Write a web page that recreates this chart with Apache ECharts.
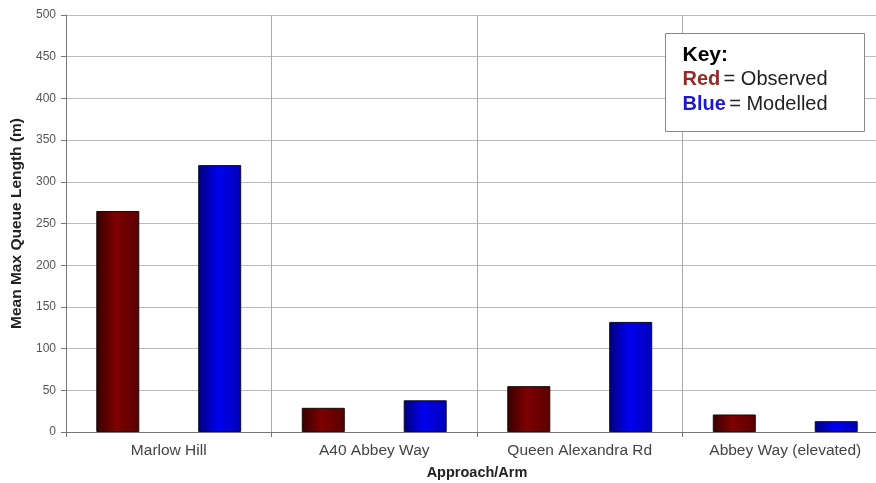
<!DOCTYPE html>
<html>
<head>
<meta charset="utf-8">
<script src="https://cdn.jsdelivr.net/npm/echarts@6/dist/echarts.min.js"></script>
<style>
  html, body { margin: 0; padding: 0; background: #fff; overflow: hidden; }
  #chart { width: 889px; height: 483px; }
</style>
</head>
<body>
<div id="chart"></div>
<script>
// Approach arms and queue lengths (m)
const categories = ['Marlow Hill', 'A40 Abbey Way', 'Queen Alexandra Rd', 'Abbey Way (elevated)'];
const observed = [265, 29, 55, 21];
const modelled = [320, 38, 132, 13];
const yTicks = [0, 50, 100, 150, 200, 250, 300, 350, 400, 450, 500];

const chart = echarts.init(document.getElementById('chart'), null, { renderer: 'canvas' });

// Horizontal shading to give the bars a rounded, cylinder-like look
function shade(edge, mid, right) {
  return new echarts.graphic.LinearGradient(0, 0, 1, 0, [
    { offset: 0, color: edge },
    { offset: 0.45, color: mid },
    { offset: 1, color: right }
  ]);
}

const font = '"Liberation Sans", Arial, sans-serif';

chart.setOption({
  backgroundColor: '#fff',
  animation: false,
  grid: { left: 66, right: 1, top: 15, bottom: 51, containLabel: false, outerBoundsMode: 'none' },
  xAxis: {
    type: 'category',
    data: categories,
    name: 'Approach/Arm',
    nameLocation: 'middle',
    nameGap: 33,
    nameTextStyle: { fontFamily: font, fontWeight: 'bold', fontSize: 14.5, color: '#222' },
    axisLine: { lineStyle: { color: '#777', width: 1 } },
    axisTick: { show: true, length: 5, lineStyle: { color: '#777' } },
    axisLabel: { fontFamily: font, fontSize: 15.5, color: '#444', margin: 11 },
    splitLine: { show: true, lineStyle: { color: '#aaa', width: 1 } }
  },
  yAxis: {
    type: 'value',
    min: 0,
    max: 500,
    interval: 50,
    name: 'Mean Max Queue Length (m)',
    nameLocation: 'middle',
    nameGap: 40,
    nameTextStyle: { fontFamily: font, fontWeight: 'bold', fontSize: 15.5, color: '#222' },
    axisLine: { show: true, lineStyle: { color: '#777', width: 1 } },
    axisTick: { show: true, length: 5, inside: false, lineStyle: { color: '#777' } },
    axisLabel: {
      fontFamily: font, fontSize: 12, color: '#555', margin: 10,
      formatter: v => yTicks.includes(v) ? String(v) : ''
    },
    splitLine: { show: true, lineStyle: { color: '#bbb', width: 1 } }
  },
  series: [
    {
      name: 'Observed',
      type: 'bar',
      data: observed,
      barWidth: 43,
      barGap: '137%',
      itemStyle: {
        color: shade('#360000', '#7e0000', '#5a0000'),
        borderColor: '#1a0a0a',
        borderWidth: 1
      }
    },
    {
      name: 'Modelled',
      type: 'bar',
      data: modelled,
      barWidth: 43,
      itemStyle: {
        color: shade('#00007a', '#0000f0', '#0000b8'),
        borderColor: '#0a0a2a',
        borderWidth: 1
      }
    }
  ],
  graphic: [
    {
      type: 'group',
      left: 665,
      top: 33,
      z: 100,
      children: [
        {
          type: 'rect',
          z: 100,
          shape: { x: 0, y: 0, width: 199, height: 98 },
          style: { fill: '#fff', stroke: '#888', lineWidth: 1 }
        },
        {
          type: 'text',
          z: 101,
          x: 17, y: 21.5,
          style: {
            text: 'Key:',
            font: 'bold 21px ' + font,
            fill: '#000',
            verticalAlign: 'middle'
          }
        },
        {
          type: 'text',
          z: 101,
          x: 17, y: 46,
          style: {
            text: '{r|Red} {t|= Observed}',
            verticalAlign: 'middle',
            rich: {
              r: { font: 'bold 20px ' + font, fill: '#962828' },
              t: { font: '20px ' + font, fill: '#222' }
            }
          }
        },
        {
          type: 'text',
          z: 101,
          x: 17, y: 71,
          style: {
            text: '{b|Blue} {t|= Modelled}',
            verticalAlign: 'middle',
            rich: {
              b: { font: 'bold 20px ' + font, fill: '#1a1acc' },
              t: { font: '20px ' + font, fill: '#222' }
            }
          }
        }
      ]
    }
  ]
});
</script>
</body>
</html>
